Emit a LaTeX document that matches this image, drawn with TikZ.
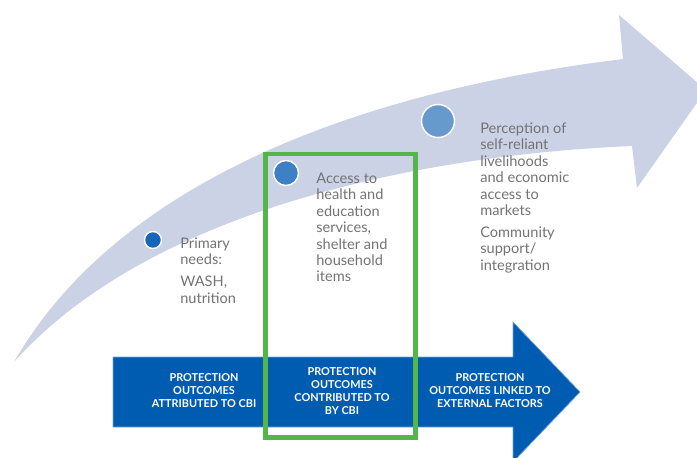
\documentclass[tikz,border=0pt]{standalone}
\usepackage{fontspec}
\setmainfont{Lato}
\usetikzlibrary{positioning}
\definecolor{bandcol}{RGB}{203,210,229}
\definecolor{dotA}{RGB}{24,102,186}
\definecolor{dotB}{RGB}{60,128,198}
\definecolor{dotC}{RGB}{102,154,205}
\definecolor{txtgray}{RGB}{115,115,115}
\definecolor{arrowblue}{RGB}{0,92,176}
\definecolor{framegreen}{RGB}{82,183,72}
\tikzset{
	stage/.style={font=\fontsize{8.3}{9.35}\selectfont, text=txtgray, align=left, anchor=north west, inner sep=0pt},
	outcome/.style={font=\fontsize{6.2}{7.4}\selectfont\bfseries, text=white, align=center, inner sep=0pt},
}

\begin{document}
\begin{tikzpicture}[x=0.02cm, y=-0.02cm]
	\useasboundingbox (0,0) rectangle (697,457);
	% curved band
	\fill[bandcol] (14,362) .. controls (110,195) and (330,95) .. (623,59) -- (619,15) -- (706,90) -- (637,188) -- (632,146) .. controls (420,155) and (150,210) .. cycle;
	\filldraw[fill=dotA, draw=white, line width=0.8pt] (153,240) circle (8.5);
	\filldraw[fill=dotB, draw=white, line width=0.8pt] (286,173) circle (12.5);
	\filldraw[fill=dotC, draw=white, line width=0.8pt] (438,121) circle (16.5);
	\node[stage] (needs) at (180,237.5) {Primary\\needs:\\[3pt]WASH,\\nutrition};
	\node[stage] (access) at (316,172.5) {Access to\\health and\\education\\services,\\shelter and\\household\\items};
	\node[stage] (markets) at (480,122.5) {Perception of\\self-reliant\\livelihoods\\and economic\\access to\\markets\\[3pt]Community\\support/\\integration};
	% outcome arrow
	\filldraw[fill=arrowblue, draw=arrowblue!55!white, line width=0.4pt] (113,357) -- (513,357) -- (513,322) -- (580,392) -- (513,462) -- (513,427) -- (113,427) -- cycle;
	\node[outcome] (attributed) at (204,391) {PROTECTION\\OUTCOMES\\ATTRIBUTED TO CBI};
	\node[outcome] (contributed) at (342,391.5) {PROTECTION\\OUTCOMES\\CONTRIBUTED TO\\BY CBI};
	\node[outcome] (linked) at (490,391) {PROTECTION\\OUTCOMES LINKED TO\\EXTERNAL FACTORS};
	\draw[framegreen, line width=2.8pt] (265.5,154) rectangle (415.5,437.5);
\end{tikzpicture}
\end{document}
